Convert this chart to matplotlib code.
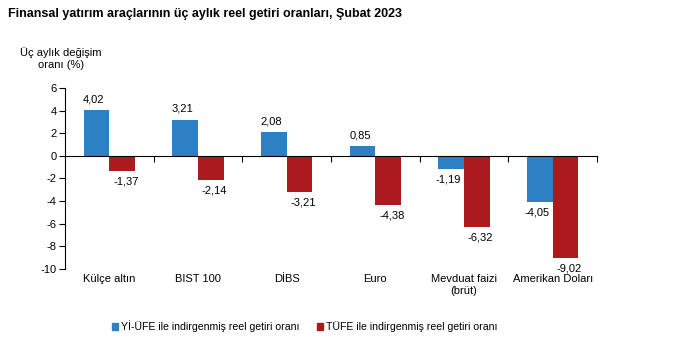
import numpy as np
import matplotlib.pyplot as plt
from matplotlib.transforms import blended_transform_factory
from matplotlib.patches import Patch

plt.rcParams['font.family'] = ['Liberation Sans', 'DejaVu Sans']
plt.rcParams['axes.unicode_minus'] = False

categories = ['Külçe altın', 'BIST 100', 'DİBS', 'Euro', 'Mevduat faizi\n(brüt)', 'Amerikan Doları']
yi_ufe = [4.02, 3.21, 2.08, 0.85, -1.19, -4.05]
tufe = [-1.37, -2.14, -3.21, -4.38, -6.32, -9.02]
series_names = ['Yİ-ÜFE ile indirgenmiş reel getiri oranı', 'TÜFE ile indirgenmiş reel getiri oranı']

blue = '#2e80c4'
red = '#ad1a1d'


def fmt(v):
    return '{:.2f}'.format(v).replace('.', ',')


fig = plt.figure(figsize=(6.77, 3.45), dpi=100)
ax = fig.add_axes([0.096, 0.2203, 0.786, 0.5247])

x = np.arange(len(categories))
w = 0.29
b1 = ax.bar(x - w / 2, yi_ufe, w, color=blue)
b2 = ax.bar(x + w / 2, tufe, w, color=red)

for bars, vals, dx in ((b1, yi_ufe, -0.03), (b2, tufe, 0.04)):
    for rect, v in zip(bars, vals):
        cx = rect.get_x() + rect.get_width() / 2 + dx
        if v >= 0:
            ax.annotate(fmt(v), (cx, v), xytext=(0, 4), textcoords='offset points',
                        ha='center', va='bottom', fontsize=8)
        else:
            ax.annotate(fmt(v), (cx, v), xytext=(0, -4), textcoords='offset points',
                        ha='center', va='top', fontsize=8)

ax.set_xlim(-0.5, len(categories) - 0.5)
ax.set_ylim(-10, 6)
ax.set_yticks(np.arange(-10, 7, 2))
ax.tick_params(axis='y', labelsize=8, length=4, width=0.8, pad=2)
ax.spines['top'].set_visible(False)
ax.spines['right'].set_visible(False)
ax.spines['bottom'].set_position(('data', 0))
ax.set_xticks(np.arange(0.5, len(categories), 1))
ax.set_xticklabels([])
ax.tick_params(axis='x', direction='out', length=4, width=0.8)

tr = blended_transform_factory(ax.transData, ax.transAxes)
for xi, name in zip(x, categories):
    ax.text(xi, -0.025, name, transform=tr, ha='center', va='top', fontsize=8, linespacing=1.3)

fig.text(0.012, 0.96, 'Finansal yatırım araçlarının üç aylık reel getiri oranları, Şubat 2023',
         fontsize=9, fontweight='bold', ha='left', va='center')
fig.text(0.09, 0.83, 'Üç aylık değişim\noranı (%)', fontsize=8, ha='center', va='center', linespacing=1.2)

handles = [Patch(color=blue), Patch(color=red)]
fig.legend(handles, series_names, loc='center', bbox_to_anchor=(0.45, 0.055), ncol=2,
           frameon=False, fontsize=7.6, handlelength=0.6, handleheight=0.6,
           handletextpad=0.3, columnspacing=1.6)

fig.savefig('out.png', dpi=100)
